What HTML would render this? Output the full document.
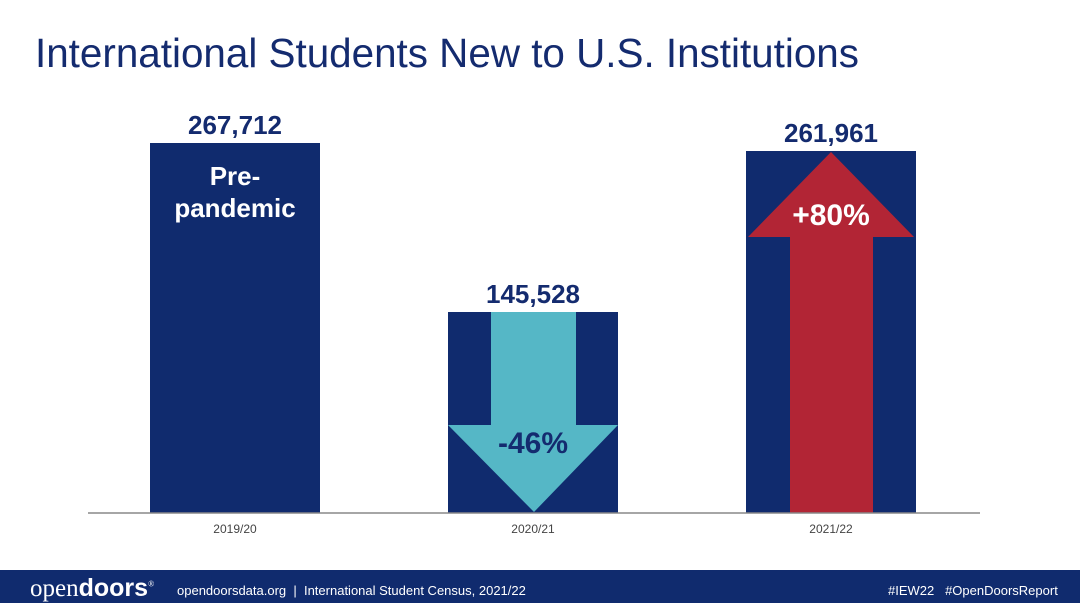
<!DOCTYPE html>
<html><head><style>
body{margin:0;width:1080px;height:603px;background:#fff;font-family:"Liberation Sans",Arial,sans-serif;overflow:hidden;position:relative}
.t{position:absolute;white-space:nowrap}
</style></head><body>
<div class="t" style="left:35px;top:30px;font-size:40.4px;color:#142b6f;">International Students New to U.S. Institutions</div>
<svg width="1080" height="603" style="position:absolute;left:0;top:0">
<rect x="150" y="143" width="170" height="370" fill="#102b6e"/>
<rect x="448" y="312" width="170" height="201" fill="#102b6e"/>
<polygon points="491,312 576,312 576,425 618,425 534,512 448,425 491,425" fill="#55b7c6"/>
<rect x="746" y="151" width="170" height="362" fill="#102b6e"/>
<polygon points="831,152 914,237 873,237 873,513 790,513 790,237 748,237" fill="#b22535"/>
<line x1="88" y1="513" x2="980" y2="513" stroke="#888" stroke-width="1.5"/>
<rect x="0" y="570" width="1080" height="33" fill="#102b6e"/>
</svg>
<div class="t" style="left:150px;width:170px;text-align:center;top:110px;font-size:26px;font-weight:bold;color:#142b6f">267,712</div>
<div class="t" style="left:150px;width:170px;text-align:center;top:160px;font-size:26px;font-weight:bold;color:#fff;line-height:32px;white-space:normal">Pre-<br>pandemic</div>
<div class="t" style="left:448px;width:170px;text-align:center;top:279px;font-size:26px;font-weight:bold;color:#142b6f">145,528</div>
<div class="t" style="left:448px;width:170px;text-align:center;top:427px;font-size:30px;font-weight:bold;color:#142b6f">-46%</div>
<div class="t" style="left:746px;width:170px;text-align:center;top:118px;font-size:26px;font-weight:bold;color:#142b6f">261,961</div>
<div class="t" style="left:746px;width:170px;text-align:center;top:199px;font-size:30px;font-weight:bold;color:#fff">+80%</div>
<div class="t" style="left:150px;width:170px;text-align:center;top:522px;font-size:12px;color:#444">2019/20</div>
<div class="t" style="left:448px;width:170px;text-align:center;top:522px;font-size:12px;color:#444">2020/21</div>
<div class="t" style="left:746px;width:170px;text-align:center;top:522px;font-size:12px;color:#444">2021/22</div>
<div class="t" style="left:30px;top:574px;font-size:25px;color:#fff;font-family:'Liberation Serif',serif">open<b style="font-family:'Liberation Sans',sans-serif">doors</b><sup style="font-size:8px">®</sup></div>
<div class="t" style="left:177px;top:583px;font-size:13px;color:#fff">opendoorsdata.org &nbsp;|&nbsp; International Student Census, 2021/22</div>
<div class="t" style="left:888px;top:583px;font-size:13px;color:#fff">#IEW22 &nbsp;&nbsp;#OpenDoorsReport</div>
</body></html>
